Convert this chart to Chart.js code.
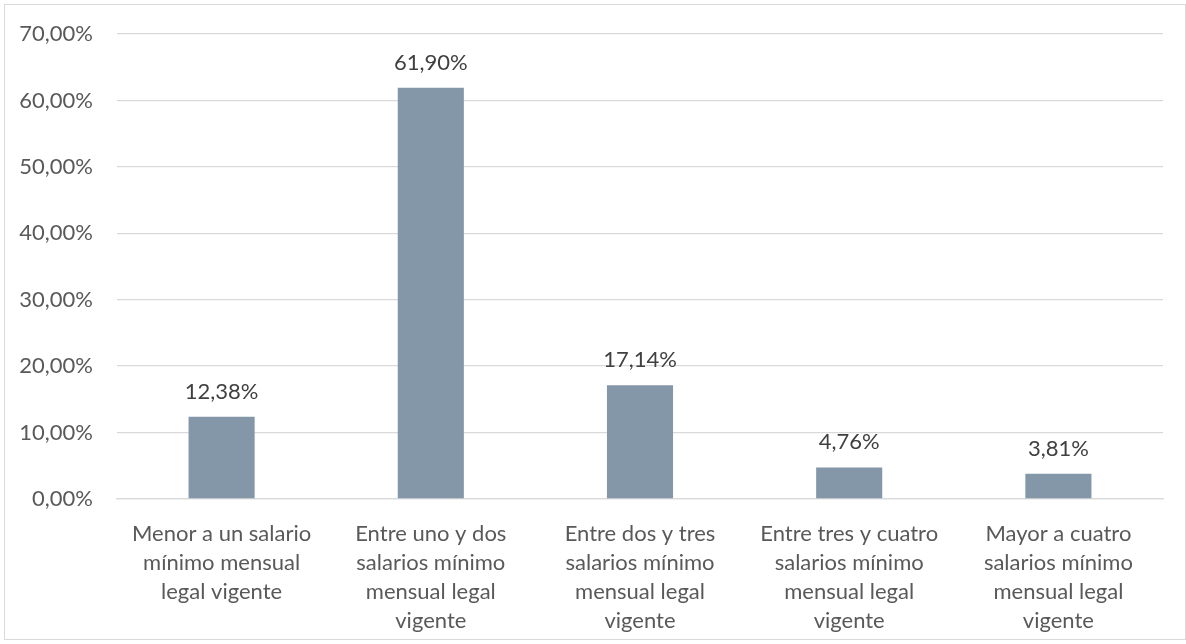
<!DOCTYPE html>
<html>
<head>
<meta charset="utf-8">
<script src="https://cdn.jsdelivr.net/npm/chart.js@4"></script>
<style>
  html, body { margin: 0; padding: 0; background: #fff; }
  #wrap { position: relative; width: 1186px; height: 644px; }
  #marco { position: absolute; left: 4px; top: 4px; width: 1180px; height: 634px; border: 1px solid #d9d9d9; pointer-events: none; }
</style>
</head>
<body>
<div id="wrap">
  <canvas id="grafico" width="1186" height="644"></canvas>
  <div id="marco"></div>
</div>
<script>
// categorias (texto partido en lineas como en el original)
const categorias = [
  ["Menor a un salario", "mínimo mensual", "legal vigente"],
  ["Entre uno y dos", "salarios mínimo", "mensual legal", "vigente"],
  ["Entre dos y tres", "salarios mínimo", "mensual legal", "vigente"],
  ["Entre tres y cuatro", "salarios mínimo", "mensual legal", "vigente"],
  ["Mayor a cuatro", "salarios mínimo", "mensual legal", "vigente"]
];
const porcentajes = [12.38, 61.90, 17.14, 4.76, 3.81];
const ticksY = [0, 10, 20, 30, 40, 50, 60, 70];

const fuente = "Lato, 'Open Sans', sans-serif";
const formatoPct = v => v.toFixed(2).replace(".", ",") + "%";

// etiquetas encima de cada barra
const etiquetasBarras = {
  id: "etiquetasBarras",
  afterDatasetsDraw(chart) {
    const ctx = chart.ctx;
    const meta = chart.getDatasetMeta(0);
    ctx.save();
    ctx.font = "22px " + fuente;
    ctx.fillStyle = "#404040";
    ctx.textAlign = "center";
    ctx.textBaseline = "middle";
    meta.data.forEach((barra, i) => {
      ctx.fillText(formatoPct(porcentajes[i]), barra.x, barra.y - 25);
    });
    ctx.restore();
  }
};

new Chart(document.getElementById("grafico"), {
  type: "bar",
  data: {
    labels: categorias,
    datasets: [{
      data: porcentajes,
      backgroundColor: "#8497a9",
      categoryPercentage: 1,
      barPercentage: 0.316
    }]
  },
  options: {
    responsive: false,
    animation: false,
    layout: { padding: { top: 34, right: 23, left: 0, bottom: 0 } },
    plugins: {
      legend: { display: false },
      tooltip: { enabled: false }
    },
    scales: {
      y: {
        min: 0,
        max: 70,
        afterFit: s => {
          s.width = 117;
          s.paddingTop = 0;
          s.paddingBottom = 0;
        },
        afterBuildTicks: s => { s.ticks = ticksY.map(v => ({ value: v })); },
        border: { display: false },
        grid: { color: "#d9d9d9", lineWidth: 1.3, drawTicks: false },
        ticks: {
          padding: 24,
          color: "#595959",
          font: { family: fuente, size: 22 },
          callback: v => formatoPct(v)
        }
      },
      x: {
        afterFit: s => { s.height = 145; },
        border: { color: "#d9d9d9", width: 1.3 },
        grid: { display: false, drawTicks: false },
        ticks: {
          padding: 20,
          maxRotation: 0,
          autoSkip: false,
          color: "#595959",
          font: { family: fuente, size: 22, lineHeight: 1.32 }
        }
      }
    }
  },
  plugins: [etiquetasBarras]
});
</script>
</body>
</html>
